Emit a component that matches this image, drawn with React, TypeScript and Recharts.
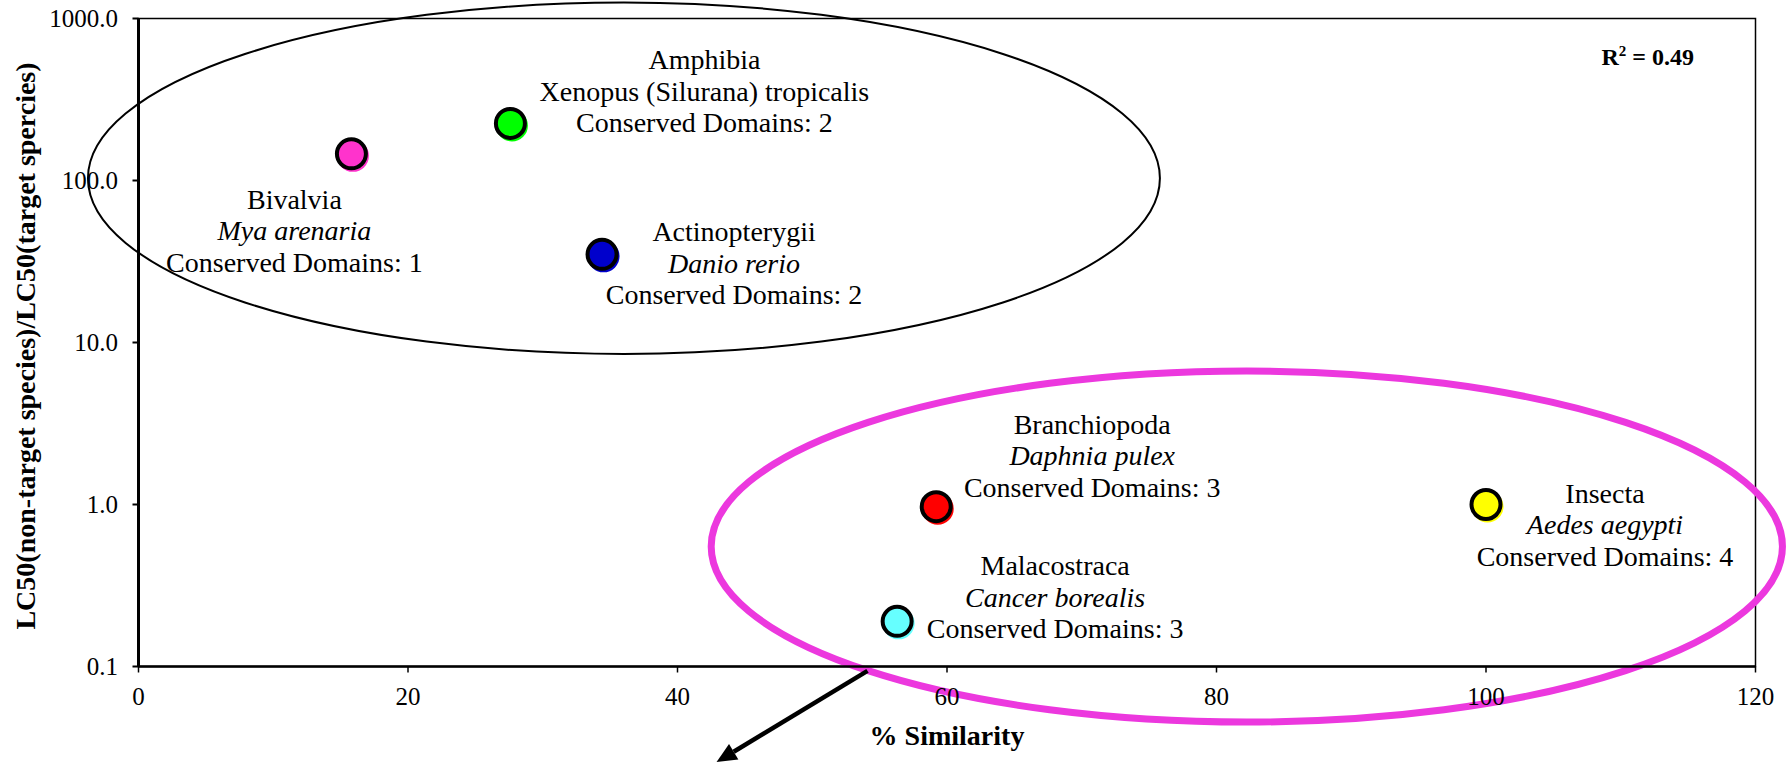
import React from 'react';
import { ScatterChart, Scatter, XAxis, YAxis, ReferenceArea, ReferenceLine } from 'recharts';

const FONT = "'Liberation Serif', 'Times New Roman', Times, serif";

// Taxonomic class of each non-target species
const classNames = ['Bivalvia', 'Amphibia', 'Actinopterygii', 'Branchiopoda', 'Malacostraca', 'Insecta'];
// Representative species
const speciesNames = [
  'Mya arenaria',
  'Xenopus (Silurana) tropicalis',
  'Danio rerio',
  'Daphnia pulex',
  'Cancer borealis',
  'Aedes aegypti',
];
// % sequence similarity to the target species
const similarity = [15.8, 27.6, 34.4, 59.2, 56.3, 100];
// LC50(non-target) / LC50(target)
const lc50Ratio = [146, 225, 35, 0.97, 0.19, 1.0];
// Number of conserved domains
const conservedDomains = [1, 2, 2, 3, 3, 4];

const xTicks = [0, 20, 40, 60, 80, 100, 120];
const yTicks = [0.1, 1, 10, 100, 1000];
const rSquared = 0.49;

// Group outlines, given as bounding boxes in data units
const groupOutlines = [
  { x1: -3.75, x2: 75.8, y1: 8.5, y2: 1255, stroke: '#000000', width: 2 },
  { x1: 42.5, x2: 122.0, y1: 0.0454, y2: 6.67, stroke: '#EC38DE', width: 7 },
];
// Arrow leaving the lower group
const arrowFrom = { x: 54.1, y: 0.094 };
const arrowTo = { x: 42.9, y: 0.0257 };

// Marker colours and label placement (pixel offsets from the marker)
const markerColors = ['#FF33CC', '#00FF00', '#0000CC', '#FF0000', '#66FFFF', '#FFFF00'];
const labelLayout = [
  { dx: -57, dy: 55, italic: true },
  { dx: 194, dy: -54, italic: false },
  { dx: 132, dy: -13, italic: true },
  { dx: 156, dy: -73, italic: true },
  { dx: 158, dy: -46, italic: true },
  { dx: 119, dy: -2, italic: true },
];
const LINE = 31.5;

const points = similarity.map((s, i) => ({
  similarity: s,
  ratio: lc50Ratio[i],
  cls: classNames[i],
  species: speciesNames[i],
  domains: conservedDomains[i],
  idx: i,
}));

const renderMarker = (props: any) => {
  const { cx, cy, payload } = props;
  if (cx == null || cy == null) return <g />;
  const i = payload.idx;
  const color = markerColors[i];
  const lab = labelLayout[i];
  const tx = cx + lab.dx;
  const ty = cy + lab.dy;
  const textProps = { textAnchor: 'middle' as const, fontSize: 28, fontFamily: FONT, fill: '#000' };
  return (
    <g>
      <circle cx={cx + 1.5} cy={cy + 2} r={16} fill={color} />
      <circle cx={cx} cy={cy} r={14.5} fill={color} stroke="#000" strokeWidth={4} />
      <text x={tx} y={ty} {...textProps}>{payload.cls}</text>
      <text x={tx} y={ty + LINE} {...textProps} fontStyle={lab.italic ? 'italic' : 'normal'}>
        {payload.species}
      </text>
      <text x={tx} y={ty + 2 * LINE} {...textProps}>{`Conserved Domains: ${payload.domains}`}</text>
    </g>
  );
};

const ellipseShape = (stroke: string, width: number) => (props: any) => {
  const { x, y, width: w, height: h } = props;
  return (
    <ellipse
      cx={x + w / 2}
      cy={y + h / 2}
      rx={Math.abs(w) / 2}
      ry={Math.abs(h) / 2}
      fill="none"
      stroke={stroke}
      strokeWidth={width}
    />
  );
};

const renderArrow = (props: any) => {
  const { x1, y1, x2, y2 } = props;
  const ang = Math.atan2(y2 - y1, x2 - x1);
  const head = 20;
  const half = 9;
  const bx = x2 - head * Math.cos(ang);
  const by = y2 - head * Math.sin(ang);
  const px = -Math.sin(ang) * half;
  const py = Math.cos(ang) * half;
  return (
    <g>
      <line x1={x1} y1={y1} x2={bx} y2={by} stroke="#000" strokeWidth={4.5} />
      <polygon points={`${x2},${y2} ${bx + px},${by + py} ${bx - px},${by - py}`} fill="#000" />
    </g>
  );
};

const renderR2 = (props: any) => {
  const vb = props.viewBox || { x: 138.5, y: 18.5, width: 1617, height: 648 };
  const x = vb.x + vb.width - 154;
  const y = vb.y + 46.5;
  return (
    <text x={x} y={y} fontFamily={FONT} fontWeight="bold" fontSize={24} fill="#000">
      R
      <tspan fontSize={15} dy={-9}>2</tspan>
      <tspan dy={9}>{` = ${rSquared.toFixed(2)}`}</tspan>
    </text>
  );
};

const renderYTitle = (props: any) => {
  const vb = props.viewBox || { x: 0, y: 18.5, width: 138.5, height: 648 };
  const cx = vb.x + 35;
  const cy = vb.y + vb.height / 2 + 3.5;
  return (
    <text
      x={cx}
      y={cy}
      transform={`rotate(-90, ${cx}, ${cy})`}
      textAnchor="middle"
      fontFamily={FONT}
      fontWeight="bold"
      fontSize={28}
      fill="#000"
    >
      LC50(non-target species)/LC50(target spercies)
    </text>
  );
};

const renderXTitle = (props: any) => {
  const vb = props.viewBox || { x: 138.5, y: 666.5, width: 1617, height: 101.5 };
  return (
    <text
      x={vb.x + vb.width / 2}
      y={vb.y + 78.5}
      textAnchor="middle"
      fontFamily={FONT}
      fontWeight="bold"
      fontSize={28}
      fill="#000"
    >
      % Similarity
    </text>
  );
};

const tickStyle = { fill: '#000', fontSize: 25, fontFamily: FONT };

export default function App() {
  return (
    <div style={{ position: 'absolute', left: 0, top: 0, background: '#fff' }}>
      <ScatterChart
        width={1791}
        height={768}
        margin={{ top: 18.5, right: 35.5, bottom: 0, left: 0 }}
      >
        <XAxis
          type="number"
          dataKey="similarity"
          domain={[0, 120]}
          ticks={xTicks}
          allowDataOverflow
          height={101.5}
          tick={tickStyle}
          tickSize={6}
          tickMargin={15}
          axisLine={{ stroke: '#000', strokeWidth: 2.5 }}
          tickLine={{ stroke: '#000', strokeWidth: 1.5 }}
          label={renderXTitle}
        />
        <YAxis
          type="number"
          dataKey="ratio"
          scale="log"
          domain={[0.1, 1000]}
          ticks={yTicks}
          allowDataOverflow
          width={138.5}
          tick={tickStyle}
          tickSize={6}
          tickMargin={14.5}
          tickFormatter={(v: number) => v.toFixed(1)}
          axisLine={{ stroke: '#000', strokeWidth: 3 }}
          tickLine={{ stroke: '#000', strokeWidth: 2 }}
          label={renderYTitle}
        />
        <ReferenceArea
          x1={0}
          x2={120}
          y1={0.1}
          y2={1000}
          ifOverflow="visible"
          fill="none"
          fillOpacity={0}
          stroke="#000"
          strokeWidth={1.5}
          label={renderR2}
        />
        <Scatter data={points} dataKey="ratio" shape={renderMarker} isAnimationActive={false} />
        {groupOutlines.map((g, i) => (
          <ReferenceArea
            key={i}
            x1={g.x1}
            x2={g.x2}
            y1={g.y1}
            y2={g.y2}
            ifOverflow="visible"
            shape={ellipseShape(g.stroke, g.width)}
          />
        ))}
        <ReferenceLine segment={[arrowFrom, arrowTo]} ifOverflow="visible" shape={renderArrow} />
      </ScatterChart>
    </div>
  );
}
